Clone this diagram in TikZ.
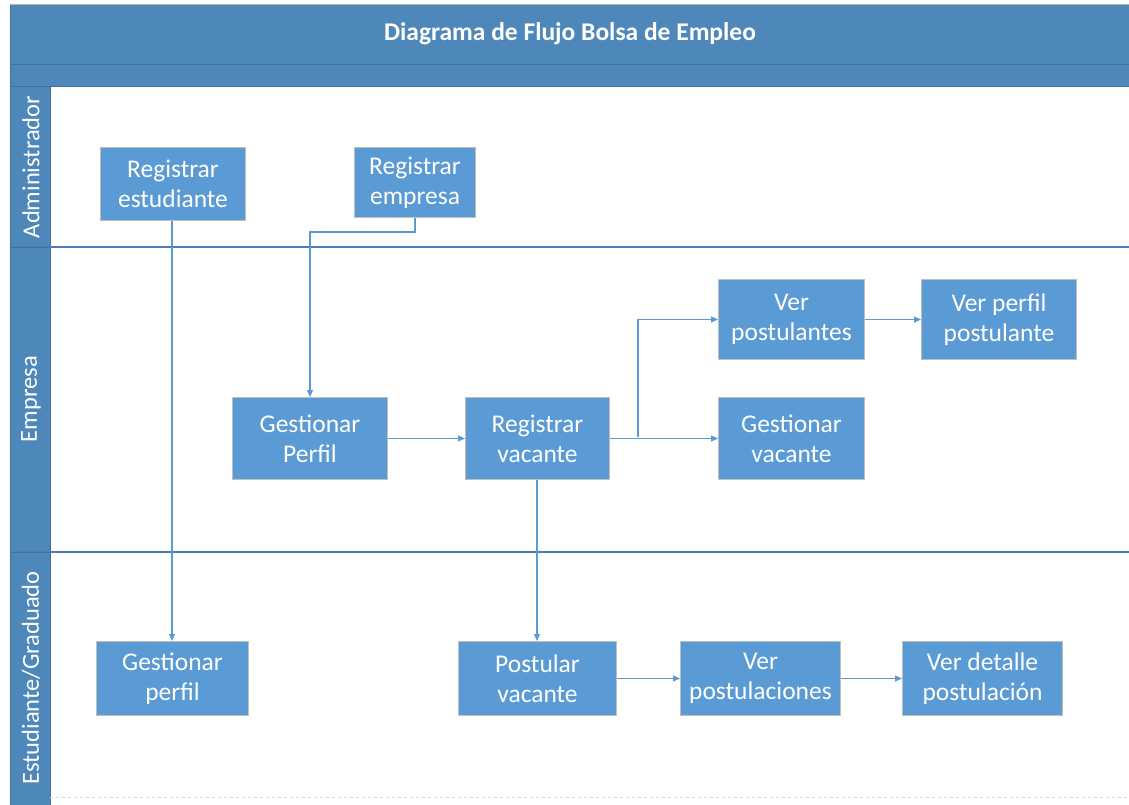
\documentclass[tikz,border=0pt]{standalone}
\usepackage{fontspec}
\setmainfont{Carlito}
\usetikzlibrary{arrows.meta}
\definecolor{hdr}{HTML}{4E87BA}
\definecolor{hdrline}{HTML}{41719C}
\definecolor{boxfill}{HTML}{5B9BD5}
\definecolor{boxline}{HTML}{BFBFBF}
\definecolor{conn}{HTML}{5B9BD5}
\definecolor{laneline}{HTML}{4A7EBB}
\tikzset{
  px/.style={x=1pt,y=-1pt},
  task/.style={draw=boxline, line width=1pt, fill=boxfill, text=white, align=center,
    font=\fontsize{25.5}{30}\selectfont, inner sep=0pt, anchor=north west},
  flow/.style={draw=conn, line width=1.1pt, -{Triangle[length=7pt,width=6pt]}},
  lanelabel/.style={text=white, font=\fontsize{24.5}{28}\selectfont, rotate=90},
}
\begin{document}
\begin{tikzpicture}[px]
\useasboundingbox (0,0) rectangle (1129,805);
\fill[white] (0,0) rectangle (1129,805);
% header
\fill[hdr] (10,5) rectangle (1129,87);
\draw[gray!60, line width=1pt] (10,5) -- (1129,5);
\draw[hdrline, line width=1pt] (10,65) -- (1129,65);
\draw[hdrline, line width=1pt] (10,87) -- (1129,87);
\node[text=white, font=\fontsize{25.5}{30}\selectfont\bfseries] (title) at (570,34) {Diagrama de Flujo Bolsa de Empleo};
% lane label column
\fill[hdr] (10,87) rectangle (50,805);
\draw[hdrline, line width=1pt] (50,87) -- (50,805);
\draw[hdrline, line width=0.8pt] (10,5) -- (10,805);
% lane separators
\draw[laneline, line width=1.2pt] (10,247) -- (1129,247);
\draw[laneline, line width=1.2pt] (10,552) -- (1129,552);
\draw[hdrline, line width=1pt] (10,247) -- (50,247);
\draw[hdrline, line width=1pt] (10,552) -- (50,552);
\draw[gray!30, dashed, line width=1pt] (50,797) -- (1129,797);
% lane labels
\node[lanelabel] (l1) at (31,167) {Administrador};
\node[lanelabel] (l2) at (31,399) {Empresa};
\node[lanelabel] (l3) at (31,678) {Estudiante/Graduado};
% tasks
\node[task, minimum width=145pt, minimum height=73pt] (re) at (100,147) {Registrar\\estudiante};
\node[task, minimum width=121pt, minimum height=70pt] (rem) at (354,147) {Registrar\\empresa};
\node[task, minimum width=155pt, minimum height=82pt] (gp) at (232,397) {Gestionar\\Perfil};
\node[task, minimum width=144pt, minimum height=82pt] (rv) at (465,397) {Registrar\\vacante};
\node[task, minimum width=146pt, minimum height=80pt] (vp) at (718,279) {Ver\\postulantes};
\node[task, minimum width=155pt, minimum height=80pt] (vpp) at (921,279) {Ver perfil\\postulante};
\node[task, minimum width=146pt, minimum height=82pt] (gv) at (718,397) {Gestionar\\vacante};
\node[task, minimum width=152pt, minimum height=74pt] (gpe) at (96,641) {Gestionar\\perfil};
\node[task, minimum width=158pt, minimum height=74pt] (pv) at (458,641) {Postular\\vacante};
\node[task, minimum width=160pt, minimum height=74pt] (vpo) at (680,641) {Ver\\postulaciones};
\node[task, minimum width=160pt, minimum height=74pt] (vdp) at (902,641) {Ver detalle\\postulación};
% connectors
\coordinate (j1) at (415,232);
\coordinate (j2) at (310,232);
\coordinate (br) at (638,437);
\draw[flow] (re.south -| 172,0) -- (gpe.north -| 172,0);
\draw[flow] (rem.south -| j1) -- (j1) -- (j2) -- (gp.north -| j2);
\draw[flow] (gp.east) -- (rv.west);
\draw[flow] (rv.east) -- (gv.west);
\draw[flow] (br) -- (br |- vp.west) -- (vp.west);
\draw[flow] (vp.east) -- (vpp.west);
\draw[flow] (rv.south -| 537,0) -- (pv.north -| 537,0);
\draw[flow] (pv.east) -- (vpo.west);
\draw[flow] (vpo.east) -- (vdp.west);
\end{tikzpicture}
\end{document}
